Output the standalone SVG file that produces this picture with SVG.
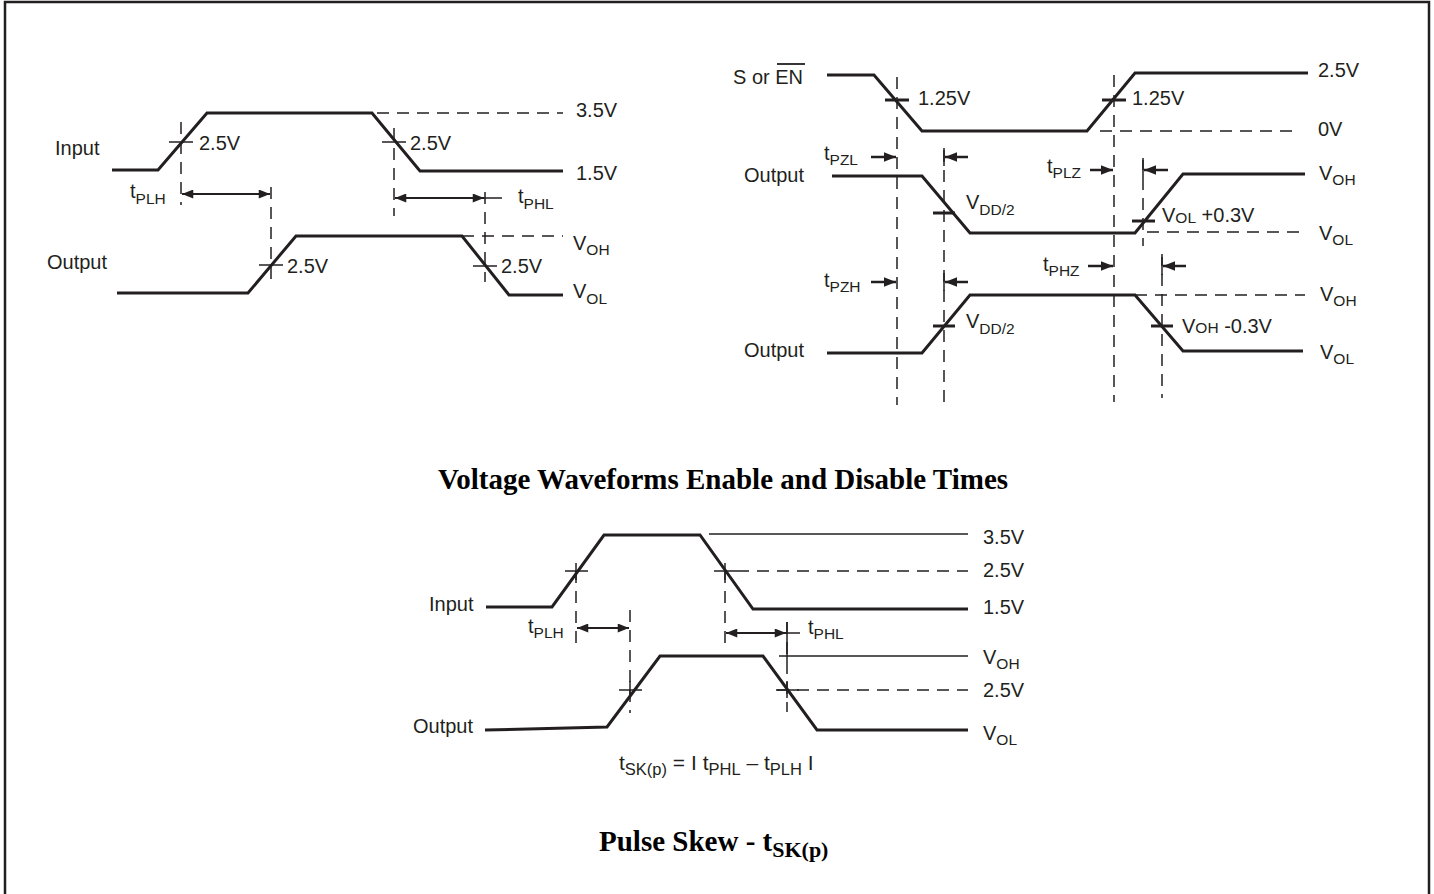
<svg xmlns="http://www.w3.org/2000/svg" width="1434" height="894" viewBox="0 0 1434 894">
<defs>
<style>
.sig{fill:none;stroke:#231f20;stroke-width:3;stroke-linejoin:miter}
.dash{fill:none;stroke:#231f20;stroke-width:1.5;stroke-dasharray:12 8}
.thin{fill:none;stroke:#231f20;stroke-width:1.3}
.tick{fill:none;stroke:#231f20;stroke-width:1.5}
.tickb{fill:none;stroke:#231f20;stroke-width:3}
.arr{fill:none;stroke:#231f20;stroke-width:1.8}
.arrb{fill:none;stroke:#231f20;stroke-width:2.5}
.lbl{font-family:"Liberation Sans",Arial,sans-serif;font-size:20px;fill:#231f20}
.sub{font-size:15.5px}
.title{font-family:"Liberation Serif","Times New Roman",serif;font-weight:bold;font-size:29px;fill:#000}
.tsub{font-size:22px}
</style>
<marker id="ah" viewBox="0 0 10 8" refX="10" refY="4" markerWidth="13" markerHeight="9" markerUnits="userSpaceOnUse" orient="auto-start-reverse">
<path d="M0,0 L10,4 L0,8 Z" fill="#231f20"/>
</marker>
<marker id="ahb" viewBox="0 0 10 8" refX="10" refY="4" markerWidth="12" markerHeight="10" markerUnits="userSpaceOnUse" orient="auto-start-reverse">
<path d="M0,0 L10,4 L0,8 Z" fill="#231f20"/>
</marker>
</defs>
<rect x="0" y="0" width="1434" height="894" fill="#fff"/>
<rect id="frame" x="5" y="2" width="1424" height="920" fill="none" stroke="#231f20" stroke-width="2.5"/>

<!-- Panel 1: propagation delay -->
<g id="panel1">
<g id="p1-input">
<polyline class="sig" points="112,170 158,170 207,113 372,113 420,171 563,171"/>
<text class="lbl" x="55" y="155">Input</text>
</g>
<g id="p1-output">
<polyline class="sig" points="117,293 248,293 296,236 462,236 509,295 563,295"/>
<text class="lbl" x="47" y="269">Output</text>
</g>
<g id="p1-labels">
<text class="lbl" x="199" y="150">2.5V</text>
<text class="lbl" x="410" y="150">2.5V</text>
<text class="lbl" x="576" y="117">3.5V</text>
<text class="lbl" x="576" y="180">1.5V</text>
<text class="lbl" x="287" y="273">2.5V</text>
<text class="lbl" x="501" y="273">2.5V</text>
<text class="lbl" x="130" y="198">t<tspan class="sub" dy="6">PLH</tspan></text>
<text class="lbl" x="518" y="203">t<tspan class="sub" dy="6">PHL</tspan></text>
<text class="lbl" x="573" y="250">V<tspan class="sub" dy="5">OH</tspan></text>
<text class="lbl" x="573" y="298">V<tspan class="sub" dy="6">OL</tspan></text>
</g>
</g>

<!-- Panel 2: enable / disable -->
<g id="panel2">
<g id="p2-en">
<polyline class="sig" points="827,75 874,75 922,131 1087,131 1135,73 1308,73"/>
<text class="lbl" x="733" y="84">S or EN</text>
<line x1="777" y1="64" x2="805" y2="64" stroke="#231f20" stroke-width="1.8"/>
</g>
<g id="p2-out1">
<polyline class="sig" points="832,176 922,176 970,233 1135,233 1183,174 1305,174"/>
<text class="lbl" x="744" y="182">Output</text>
</g>
<g id="p2-out2">
<polyline class="sig" points="827,353 922,353 970,295 1135,295 1183,351 1303,351"/>
<text class="lbl" x="744" y="357">Output</text>
</g>
<g id="p2-labels">
<text class="lbl" x="918" y="105">1.25V</text>
<text class="lbl" x="1132" y="105">1.25V</text>
<text class="lbl" x="1318" y="77">2.5V</text>
<text class="lbl" x="1318" y="136">0V</text>
<text class="lbl" x="824" y="160">t<tspan class="sub" dy="5">PZL</tspan></text>
<text class="lbl" x="1047" y="173">t<tspan class="sub" dy="5">PLZ</tspan></text>
<text class="lbl" x="824" y="287">t<tspan class="sub" dy="5">PZH</tspan></text>
<text class="lbl" x="1043" y="271">t<tspan class="sub" dy="5">PHZ</tspan></text>
<text class="lbl" x="966" y="209">V<tspan class="sub" dy="6">DD/2</tspan></text>
<text class="lbl" x="966" y="328">V<tspan class="sub" dy="6">DD/2</tspan></text>
<text class="lbl" x="1162" y="222">V<tspan class="sub" dy="1">OL</tspan><tspan dy="-1"> +0.3V</tspan></text>
<text class="lbl" x="1182" y="333">V<tspan class="sub">OH</tspan> -0.3V</text>
<text class="lbl" x="1319" y="180">V<tspan class="sub" dy="5">OH</tspan></text>
<text class="lbl" x="1319" y="240">V<tspan class="sub" dy="5">OL</tspan></text>
<text class="lbl" x="1320" y="301">V<tspan class="sub" dy="5">OH</tspan></text>
<text class="lbl" x="1320" y="359">V<tspan class="sub" dy="5">OL</tspan></text>
</g>
</g>

<text id="title1" class="title" x="723" y="489" text-anchor="middle">Voltage Waveforms Enable and Disable Times</text>

<!-- Panel 3: pulse skew -->
<g id="panel3">
<g id="p3-input">
<polyline class="sig" points="486,607 552,607 604,535 700,535 753,609 968,609"/>
<text class="lbl" x="429" y="611">Input</text>
</g>
<g id="p3-output">
<polyline class="sig" points="485,730 607,727 660,656 763,656 817,730 968,730"/>
<text class="lbl" x="413" y="733">Output</text>
</g>
<g id="p3-labels">
<text class="lbl" x="983" y="544">3.5V</text>
<text class="lbl" x="983" y="577">2.5V</text>
<text class="lbl" x="983" y="614">1.5V</text>
<text class="lbl" x="983" y="664">V<tspan class="sub" dy="5">OH</tspan></text>
<text class="lbl" x="983" y="697">2.5V</text>
<text class="lbl" x="983" y="740">V<tspan class="sub" dy="5">OL</tspan></text>
<text class="lbl" x="528" y="633">t<tspan class="sub" dy="5">PLH</tspan></text>
<text class="lbl" x="808" y="634">t<tspan class="sub" dy="5">PHL</tspan></text>
<text class="lbl" x="619" y="770" style="font-size:21px">t<tspan class="sub" dy="5" style="font-size:16.5px">SK(p)</tspan><tspan dy="-5"> = I t</tspan><tspan class="sub" dy="5" style="font-size:16.5px">PHL</tspan><tspan dy="-5"> – t</tspan><tspan class="sub" dy="5" style="font-size:16.5px">PLH</tspan><tspan dy="-5"> I</tspan></text>
</g>
</g>

<text id="title2" class="title" x="599" y="851">Pulse Skew - t<tspan class="tsub" dy="6">SK(p)</tspan></text>

<!-- Connectors: reference lines, dimension arrows, crossing marks -->
<g id="connectors">
<!-- panel 1 -->
<line class="dash" x1="377" y1="113" x2="563" y2="113"/>
<line class="dash" x1="462" y1="236" x2="563" y2="236"/>
<line class="dash" x1="181" y1="122" x2="181" y2="205"/>
<line class="dash" x1="394" y1="128" x2="394" y2="216"/>
<line class="dash" x1="271" y1="187" x2="271" y2="283"/>
<line class="dash" x1="485" y1="192" x2="485" y2="282"/>
<line class="tick" x1="169" y1="142" x2="193" y2="142"/>
<line class="tick" x1="382" y1="142" x2="406" y2="142"/>
<line class="tick" x1="259" y1="265" x2="283" y2="265"/>
<line class="tick" x1="473" y1="266" x2="497" y2="266"/>
<line class="arr" x1="182" y1="194" x2="270" y2="194" marker-start="url(#ah)" marker-end="url(#ah)"/>
<line class="arr" x1="395" y1="198" x2="484" y2="198" marker-start="url(#ah)" marker-end="url(#ah)"/>
<line class="tick" x1="484" y1="198" x2="502" y2="198"/>

<!-- panel 2 -->
<line class="dash" x1="1100" y1="131" x2="1300" y2="131"/>
<line class="dash" x1="1147" y1="232" x2="1300" y2="232"/>
<line class="dash" x1="1135" y1="295" x2="1305" y2="295"/>
<line class="dash" x1="897" y1="77" x2="897" y2="405"/>
<line class="dash" x1="944" y1="150" x2="944" y2="403"/>
<line class="dash" x1="1114" y1="75" x2="1114" y2="402"/>
<line class="dash" x1="1143" y1="158" x2="1143" y2="246"/>
<line class="dash" x1="1162" y1="254" x2="1162" y2="398"/>
<line class="tickb" x1="885" y1="100" x2="909" y2="100"/>
<line class="tickb" x1="1102" y1="100" x2="1126" y2="100"/>
<line class="tickb" x1="933" y1="213" x2="955" y2="213"/>
<line class="tickb" x1="1132" y1="221" x2="1155" y2="221"/>
<line class="tickb" x1="933" y1="326" x2="955" y2="326"/>
<line class="tickb" x1="1151" y1="326" x2="1173" y2="326"/>
<line class="arrb" x1="871" y1="157" x2="896" y2="157" marker-end="url(#ahb)"/>
<line class="arrb" x1="968" y1="157" x2="945" y2="157" marker-end="url(#ahb)"/>
<line class="arrb" x1="1090" y1="170" x2="1113" y2="170" marker-end="url(#ahb)"/>
<line class="arrb" x1="1168" y1="170" x2="1144" y2="170" marker-end="url(#ahb)"/>
<line class="arrb" x1="871" y1="282" x2="896" y2="282" marker-end="url(#ahb)"/>
<line class="arrb" x1="968" y1="282" x2="945" y2="282" marker-end="url(#ahb)"/>
<line class="arrb" x1="1088" y1="266" x2="1113" y2="266" marker-end="url(#ahb)"/>
<line class="arrb" x1="1186" y1="266" x2="1163" y2="266" marker-end="url(#ahb)"/>
<line class="tick" x1="944" y1="148" x2="944" y2="166"/>
<line class="tick" x1="1143" y1="160" x2="1143" y2="178"/>
<line class="tick" x1="944" y1="273" x2="944" y2="291"/>
<line class="tick" x1="1162" y1="257" x2="1162" y2="275"/>

<!-- panel 3 -->
<line class="thin" x1="709" y1="534" x2="968" y2="534"/>
<line class="dash" x1="737" y1="571" x2="968" y2="571"/>
<line class="thin" x1="779" y1="656" x2="968" y2="656"/>
<line class="dash" x1="777" y1="690" x2="968" y2="690"/>
<line class="dash" x1="576" y1="571" x2="576" y2="647"/>
<line class="dash" x1="725" y1="571" x2="725" y2="647"/>
<line class="dash" x1="630" y1="610" x2="630" y2="713"/>
<line class="dash" x1="787" y1="622" x2="787" y2="712"/>
<line class="tick" x1="565" y1="571" x2="588" y2="571"/>
<line class="tick" x1="576" y1="563" x2="576" y2="580"/>
<line class="tick" x1="714" y1="571" x2="737" y2="571"/>
<line class="tick" x1="725" y1="563" x2="725" y2="580"/>
<line class="tick" x1="619" y1="690" x2="642" y2="690"/>
<line class="tick" x1="630" y1="681" x2="630" y2="698"/>
<line class="tick" x1="776" y1="690" x2="799" y2="690"/>
<line class="tick" x1="787" y1="681" x2="787" y2="698"/>
<line class="tick" x1="787" y1="622" x2="787" y2="662"/>
<line class="arr" x1="577" y1="628" x2="629" y2="628" marker-start="url(#ah)" marker-end="url(#ah)"/>
<line class="arr" x1="726" y1="633" x2="786" y2="633" marker-start="url(#ah)" marker-end="url(#ah)"/>
<line class="tick" x1="786" y1="633" x2="800" y2="633"/>
</g>
</svg>
